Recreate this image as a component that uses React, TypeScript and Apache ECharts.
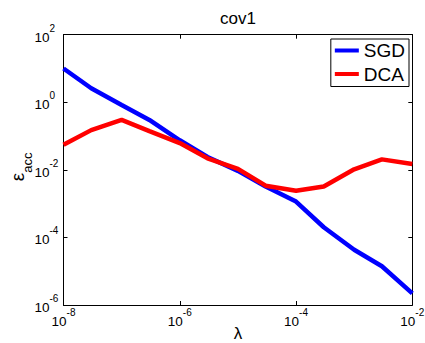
import React, { useEffect, useRef } from 'react';
import * as echarts from 'echarts';

const lambdas = [1e-8, 3e-8, 1e-7, 3e-7, 1e-6, 3e-6, 1e-5, 3e-5, 1e-4, 3e-4, 1e-3, 3e-3, 1e-2];
const sgdValues = [10, 2.6, 0.83, 0.3, 0.075, 0.024, 0.0093, 0.0032, 0.00115, 0.0002, 0.000043, 0.000014, 0.0000022];
const dcaValues = [0.055, 0.15, 0.3, 0.14, 0.062, 0.022, 0.0107, 0.0034, 0.0024, 0.0032, 0.0104, 0.0204, 0.0148];
const seriesNames = ['SGD', 'DCA'];
const seriesColors = ['#0000ff', '#ff0000'];
const titleText = 'cov1';
const xName = 'λ';
const yNameMain = 'ε';
const yNameSub = 'acc';

const FONT = "'Liberation Sans', Arial, Helvetica, sans-serif";

function expLabel(v: number) {
  const e = Math.round(Math.log10(v));
  return `{b|10}{s|${e}}`;
}

const tickRich = {
  b: { fontSize: 13.5, fontFamily: FONT, color: '#000', padding: [5, 0, 0, 0] },
  s: { fontSize: 10, fontFamily: FONT, color: '#000', padding: [0, 0, 13, 0] },
};

export default function App() {
  const ref = useRef<HTMLDivElement>(null);
  useEffect(() => {
    if (!ref.current) return;
    const chart = echarts.init(ref.current, undefined, { renderer: 'svg' });
    const axisLine = { show: true, lineStyle: { color: '#000', width: 1 } };
    const axisTick = { show: true, inside: true, length: 4, lineStyle: { color: '#000', width: 1 } };
    const common = { type: 'log' as const, logBase: 10, splitLine: { show: false }, axisLine, axisTick, minorTick: { show: false } };
    const option: any = {
      animation: false,
      backgroundColor: '#fff',
      title: {
        text: titleText,
        left: 238,
        top: 10,
        textAlign: 'center',
        padding: 0,
        textStyle: { fontFamily: FONT, fontSize: 17, fontWeight: 'normal', color: '#000' },
      },
      grid: { left: 63.5, right: 12.7, top: 34.7, bottom: 38, containLabel: false, outerBoundsMode: 'none' },
      legend: {
        data: seriesNames,
        orient: 'vertical',
        right: 16,
        top: 39,
        icon: 'rect',
        itemWidth: 24,
        itemHeight: 4,
        itemGap: 4.5,
        padding: [2, 4, 3, 4],
        borderColor: '#000',
        borderWidth: 1,
        backgroundColor: '#fff',
        textStyle: { fontFamily: FONT, fontSize: 19, color: '#000' },
      },
      xAxis: [
        {
          ...common,
          position: 'bottom',
          min: 1e-8,
          max: 1e-2,
          interval: 2,
          axisLabel: { show: true, margin: 2, formatter: expLabel, rich: tickRich },
          name: xName,
          nameLocation: 'middle',
          nameGap: 20,
          nameMoveOverlap: false,
          nameTextStyle: { fontFamily: FONT, fontSize: 17, color: '#000', lineHeight: 17 },
        },
        {
          ...common,
          position: 'top',
          min: 1e-8,
          max: 1e-2,
          interval: 2,
          axisLabel: { show: false },
        },
      ],
      yAxis: [
        {
          ...common,
          position: 'left',
          min: 1e-6,
          max: 1e2,
          interval: 2,
          axisLabel: { show: true, margin: 29, align: 'left', formatter: expLabel, rich: tickRich },
          name: `{e|${yNameMain}}{s|${yNameSub}}`,
          nameLocation: 'middle',
          nameRotate: 90,
          nameGap: 30,
          nameMoveOverlap: false,
          nameTextStyle: {
            rich: {
              e: { fontSize: 19, fontFamily: FONT, color: '#000', padding: [0, 0, 0, 6] },
              s: { fontSize: 13, fontFamily: FONT, color: '#000', padding: [20, 0, 0, 0] },
            },
          },
        },
        {
          ...common,
          position: 'right',
          min: 1e-6,
          max: 1e2,
          interval: 2,
          axisLabel: { show: false },
        },
      ],
      series: [
        {
          name: seriesNames[0],
          type: 'line',
          xAxisIndex: 0,
          yAxisIndex: 0,
          data: lambdas.map((x, i) => [x, sgdValues[i]]),
          symbol: 'none',
          showSymbol: false,
          lineStyle: { color: seriesColors[0], width: 4.5 },
          itemStyle: { color: seriesColors[0] },
        },
        {
          name: seriesNames[1],
          type: 'line',
          xAxisIndex: 0,
          yAxisIndex: 0,
          data: lambdas.map((x, i) => [x, dcaValues[i]]),
          symbol: 'none',
          showSymbol: false,
          lineStyle: { color: seriesColors[1], width: 4.5 },
          itemStyle: { color: seriesColors[1] },
        },
      ],
    };
    chart.setOption(option);
    return () => chart.dispose();
  }, []);
  return (
    <div
      ref={ref}
      style={{ position: 'fixed', left: 0, top: 0, width: 425, height: 343, background: '#fff' }}
    />
  );
}
